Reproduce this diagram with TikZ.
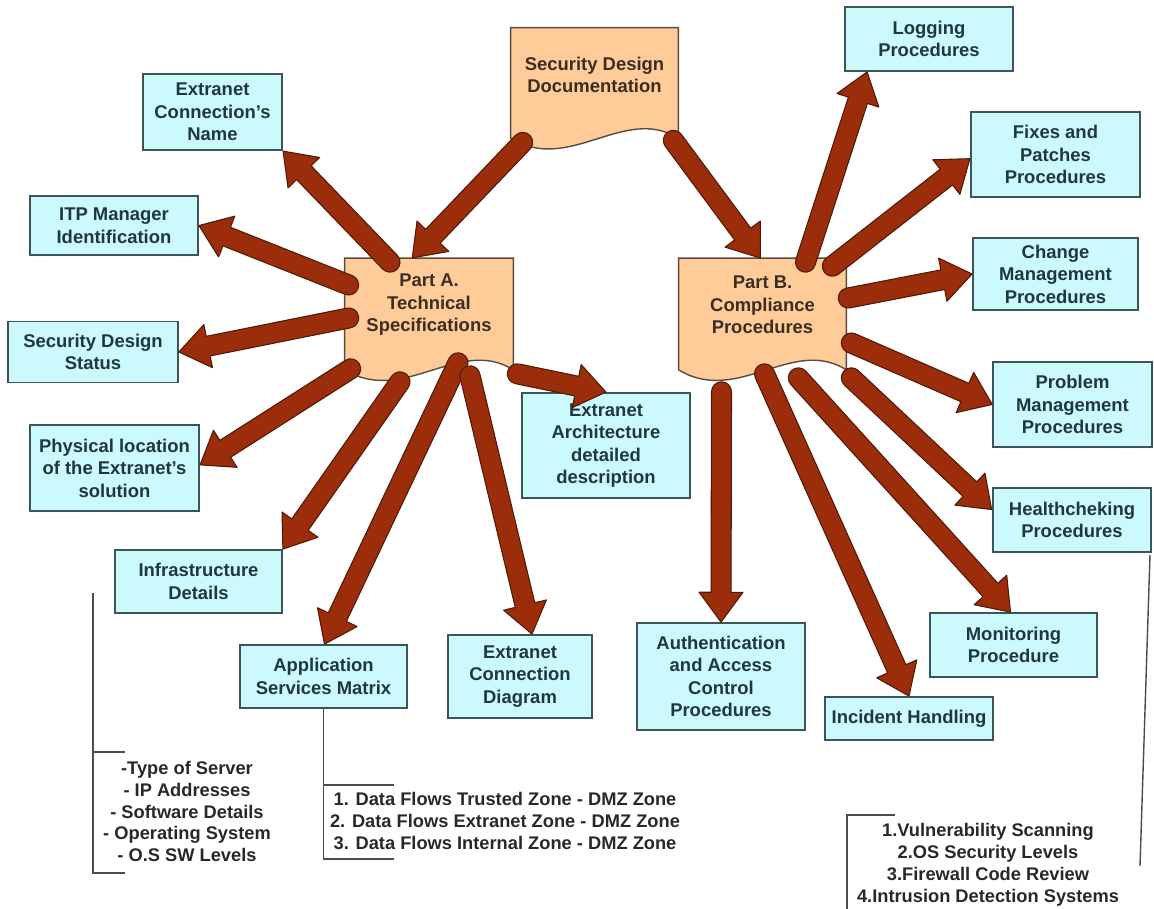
\documentclass[tikz,border=0pt]{standalone}
\usepackage{fontspec}
\setmainfont{Liberation Sans}
\usetikzlibrary{calc,backgrounds}

\definecolor{boxfill}{RGB}{204,250,252}
\definecolor{boxline}{RGB}{60,85,90}
\definecolor{boxtext}{RGB}{30,55,65}
\definecolor{docfill}{RGB}{255,204,153}
\definecolor{docline}{RGB}{90,75,65}
\definecolor{doctext}{RGB}{60,45,35}
\definecolor{arrowfill}{RGB}{155,45,10}
\definecolor{arrowline}{RGB}{80,25,5}
\definecolor{legendtext}{RGB}{40,40,40}

\tikzset{
  boxfont/.style={font=\bfseries\fontsize{10.5}{12.8}\selectfont},
  infobox/.style={boxfont, draw=boxline, fill=boxfill, line width=1pt,
    text=boxtext, align=center, inner sep=0pt},
  docbox/.style={boxfont, text=doctext, align=center, inner sep=0pt},
  docshape/.style={draw=docline, fill=docfill, line width=0.8pt},
  legend/.style={font=\bfseries\fontsize{10.4}{12.5}\selectfont,
    text=legendtext, align=center},
  bracket/.style={draw=black!70, line width=0.8pt},
  fatarrow/.style={draw=arrowline, fill=arrowfill, line width=0.6pt, line join=round}
}

% block arrow from #1 to #2
\newcommand{\fatarrow}[2]{%
  \draw[fatarrow] let \p1=#1, \p2=#2,
      \n1={atan2(\y2-\y1,\x2-\x1)}, \n2={veclen(\x2-\x1,\y2-\y1)} in
    [shift={(\p1)}, rotate=\n1]
    (0pt,5.7pt) -- ({(\n2-17)*1pt},5.7pt) -- ({(\n2-17)*1pt},12.5pt)
    -- ({\n2*1pt},0pt) -- ({(\n2-17)*1pt},-12.5pt) -- ({(\n2-17)*1pt},-5.7pt)
    -- (0pt,-5.7pt) arc[start angle=-90, end angle=-270, radius=5.7pt] -- cycle;}

\begin{document}
\begin{tikzpicture}[x=0.02cm, y=-0.02cm]
    \useasboundingbox (0,0) rectangle (1154,909);

    % Documents
    \node[docbox, minimum width=3.34cm, minimum height=1.88cm] (sdd) at (594.5,75)
        {Security Design\\Documentation};
    \node[docbox, minimum width=3.36cm, minimum height=1.86cm] (partA) at (429,305)
        {Part A.\\Technical\\Specifications};
    \node[docbox, minimum width=3.34cm, minimum height=1.86cm] (partB) at (762.5,305)
        {Part B.\\Compliance\\Procedures};

    % Wavy bottoms of the documents
    \begin{pgfonlayer}{background}
    \foreach \n/\d in {sdd/16, partA/18, partB/18} {
        \path ($(\n.south east)+(0,\d)$) coordinate (r)
              ($(\n.south west)+(0,\d)$) coordinate (l);
        \draw[docshape] (\n.north west) -- (\n.north east) -- (r)
            .. controls ($(r)!0.32!(l)+(0,-34)$) and ($(l)!0.35!(r)+(0,36)$) .. (l)
            -- cycle;
    }
    \end{pgfonlayer}

    % Part A items
    \node[infobox, minimum width=2.78cm, minimum height=1.52cm] (conname) at (212.5,112)
        {Extranet\\Connection's\\Name};
    \node[infobox, minimum width=3.36cm, minimum height=1.18cm] (itp) at (114,225.5)
        {ITP Manager\\Identification};
    \node[infobox, minimum width=3.40cm, minimum height=1.22cm] (sds) at (93,352)
        {Security Design\\Status};
    \node[infobox, minimum width=3.38cm, minimum height=1.72cm] (phys) at (114.5,468)
        {Physical location\\of the Extranet's\\solution};
    \node[infobox, minimum width=3.34cm, minimum height=1.26cm] (infra) at (198.5,581.5)
        {Infrastructure\\Details};
    \node[infobox, minimum width=3.34cm, minimum height=1.26cm] (appm) at (323.5,676.5)
        {Application\\Services Matrix};
    \node[infobox, minimum width=2.88cm, minimum height=1.66cm] (cdiag) at (520,676.5)
        {Extranet\\Connection\\Diagram};
    \node[infobox, minimum width=3.36cm, minimum height=2.10cm] (arch) at (606,445.5)
        {Extranet\\Architecture\\detailed\\description};

    % Part B items
    \node[infobox, minimum width=3.36cm, minimum height=2.14cm] (auth) at (721,676.5)
        {Authentication\\and Access\\Control\\Procedures};
    \node[infobox, minimum width=3.36cm, minimum height=0.86cm] (incident) at (909,718.5)
        {Incident Handling};
    \node[infobox, minimum width=3.34cm, minimum height=1.28cm] (monitor) at (1013.5,645)
        {Monitoring\\Procedure};
    \node[infobox, minimum width=3.16cm, minimum height=1.28cm] (health) at (1072,520)
        {Healthcheking\\Procedures};
    \node[infobox, minimum width=3.17cm, minimum height=1.70cm] (problem) at (1072.5,404.5)
        {Problem\\Management\\Procedures};
    \node[infobox, minimum width=3.30cm, minimum height=1.44cm] (change) at (1055.5,274)
        {Change\\Management\\Procedures};
    \node[infobox, minimum width=3.38cm, minimum height=1.70cm] (fixes) at (1055.5,154.5)
        {Fixes and\\Patches\\Procedures};
    \node[infobox, minimum width=3.36cm, minimum height=1.28cm] (logging) at (929,39)
        {Logging\\Procedures};

    % Arrows from the top document
    \fatarrow{($(sdd.south west)+(12,20)$)}{($(partA.north)+(-17,0)$)}
    \fatarrow{($(sdd.south east)+(-5,18)$)}{($(partB.north)+(-2,0)$)}

    % Arrows of Part A
    \fatarrow{($(partA.north)+(-39,4)$)}{(conname.south east)}
    \fatarrow{($(partA.west)+(4,-20)$)}{(itp.east)}
    \fatarrow{($(partA.west)+(4,13)$)}{(sds.east)}
    \fatarrow{($(partA.south west)+(6,17)$)}{($(phys.east)+(0,-3)$)}
    \fatarrow{($(partA.south)+(-29,30)$)}{(infra.north east)}
    \fatarrow{($(partA.south)+(29,11)$)}{($(appm.north)+(1,0)$)}
    \fatarrow{($(partA.south)+(41,24)$)}{($(cdiag.north)+(12,0)$)}
    \fatarrow{($(partA.south east)+(4,22)$)}{(arch.north)}

    % Arrows of Part B
    \fatarrow{($(partB.north)+(43,4)$)}{($(logging.south west)+(23,0)$)}
    \fatarrow{($(partB.north east)+(-14,8)$)}{($(fixes.west)+(0,4)$)}
    \fatarrow{($(partB.east)+(2,-7)$)}{(change.west)}
    \fatarrow{($(partB.east)+(5,38)$)}{(problem.west)}
    \fatarrow{($(partB.south east)+(5,26)$)}{($(health.west)+(0,-10)$)}
    \fatarrow{($(partB.south east)+(-48,26)$)}{($(monitor.north)+(-3,0)$)}
    \fatarrow{($(partB.south)+(2,22)$)}{(incident.north)}
    \fatarrow{($(partB.south)+(-41,40)$)}{(auth.north)}

    % Lists
    \node[legend] (infralist) at (187,811.5)
        {-Type of Server\\- IP Addresses\\- Software Details\\- Operating System\\- O.S SW Levels};
    \node[legend] (flowlist) at (505,821)
        {1. Data Flows Trusted Zone - DMZ Zone\\2. Data Flows Extranet Zone - DMZ Zone\\3. Data Flows Internal Zone - DMZ Zone};
    \node[legend] (checklist) at (988,864.5)
        {1.Vulnerability Scanning\\2.OS Security Levels\\3.Firewall Code Review\\4.Intrusion Detection Systems};

    % Brackets
    \draw[bracket] (93,593) -- (93,873) -- (125,873);
    \draw[bracket] (93,752) -- (125,752);
    \draw[bracket] (appm.south) -- ++(0,150) -- ++(70,0);
    \draw[bracket] ($(appm.south)+(0,76)$) -- ++(70,0);
    \draw[bracket] (895,815) -- (847,815) -- (847,909);
    \draw[bracket] (1150,555) -- (1140,866);
\end{tikzpicture}
\end{document}
